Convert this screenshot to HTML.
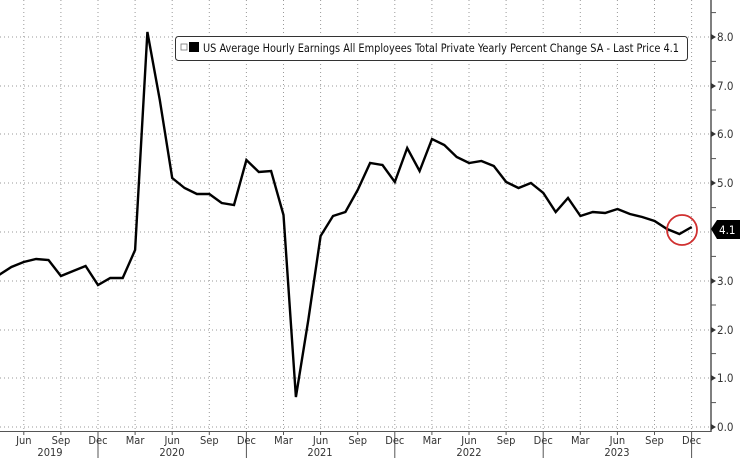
<!DOCTYPE html>
<html><head><style>
html,body{margin:0;padding:0;background:#fff;}
svg{display:block;font-family:"DejaVu Sans Condensed","Liberation Sans",sans-serif;}
</style></head><body>
<svg width="740" height="458" viewBox="0 0 740 458" xmlns="http://www.w3.org/2000/svg">
<rect width="740" height="458" fill="#fff"/>
<g stroke="#999" stroke-width="1" stroke-dasharray="1,3">
<line x1="0" x2="711" y1="37" y2="37"/><line x1="0" x2="711" y1="86" y2="86"/>
<line x1="0" x2="711" y1="134" y2="134"/><line x1="0" x2="711" y1="183" y2="183"/>
<line x1="0" x2="711" y1="232" y2="232"/><line x1="0" x2="711" y1="281" y2="281"/>
<line x1="0" x2="711" y1="330" y2="330"/><line x1="0" x2="711" y1="378" y2="378"/>
<line x1="0" x2="711" y1="427" y2="427"/>
<line x1="23.8" x2="23.8" y1="0" y2="431"/><line x1="60.9" x2="60.9" y1="0" y2="431"/>
<line x1="98" x2="98" y1="0" y2="431"/><line x1="135.1" x2="135.1" y1="0" y2="431"/>
<line x1="172.2" x2="172.2" y1="0" y2="431"/><line x1="209.3" x2="209.3" y1="0" y2="431"/>
<line x1="246.4" x2="246.4" y1="0" y2="431"/><line x1="283.5" x2="283.5" y1="0" y2="431"/>
<line x1="320.6" x2="320.6" y1="0" y2="431"/><line x1="357.7" x2="357.7" y1="0" y2="431"/>
<line x1="394.8" x2="394.8" y1="0" y2="431"/><line x1="431.9" x2="431.9" y1="0" y2="431"/>
<line x1="469" x2="469" y1="0" y2="431"/><line x1="506.1" x2="506.1" y1="0" y2="431"/>
<line x1="543.2" x2="543.2" y1="0" y2="431"/><line x1="580.3" x2="580.3" y1="0" y2="431"/>
<line x1="617.4" x2="617.4" y1="0" y2="431"/><line x1="654.5" x2="654.5" y1="0" y2="431"/>
<line x1="691.6" x2="691.6" y1="0" y2="431"/>
</g>
<line x1="711" x2="711" y1="0" y2="432" stroke="#555" stroke-width="1.5"/>
<line x1="0" x2="711" y1="431.5" y2="431.5" stroke="#555" stroke-width="1"/>
<g stroke="#555" stroke-width="1">
<line x1="711" x2="716" y1="12.6" y2="12.6"/><line x1="711" x2="716" y1="61.4" y2="61.4"/>
<line x1="711" x2="716" y1="110" y2="110"/><line x1="711" x2="716" y1="158.6" y2="158.6"/>
<line x1="711" x2="716" y1="207.6" y2="207.6"/><line x1="711" x2="716" y1="256.4" y2="256.4"/>
<line x1="711" x2="716" y1="305" y2="305"/><line x1="711" x2="716" y1="353.6" y2="353.6"/>
<line x1="711" x2="716" y1="402.6" y2="402.6"/>
</g>
<g fill="#333">
<polygon points="711,34 716,37 711,40"/><polygon points="711,83 716,86 711,89"/>
<polygon points="711,131 716,134 711,137"/><polygon points="711,180 716,183 711,186"/>
<polygon points="711,278 716,281 711,284"/><polygon points="711,327 716,330 711,333"/>
<polygon points="711,375 716,378 711,381"/><polygon points="711,424 716,427 711,430"/>
</g>
<g font-size="11.5" fill="#333">
<text x="717" y="41">8.0</text><text x="717" y="90">7.0</text><text x="717" y="138">6.0</text>
<text x="717" y="187">5.0</text><text x="717" y="285">3.0</text><text x="717" y="334">2.0</text>
<text x="717" y="382">1.0</text><text x="717" y="431">0.0</text>
</g>
<polygon points="711,229 717,220 740,220 740,239 717,239" fill="#000"/>
<text x="719" y="234" font-size="11.5" fill="#fff">4.1</text>
<g stroke="#555" stroke-width="1">
<line x1="23.8" x2="23.8" y1="431" y2="435"/><line x1="60.9" x2="60.9" y1="431" y2="435"/>
<line x1="98" x2="98" y1="431" y2="458"/><line x1="135.1" x2="135.1" y1="431" y2="435"/>
<line x1="172.2" x2="172.2" y1="431" y2="435"/><line x1="209.3" x2="209.3" y1="431" y2="435"/>
<line x1="246.4" x2="246.4" y1="431" y2="458"/><line x1="283.5" x2="283.5" y1="431" y2="435"/>
<line x1="320.6" x2="320.6" y1="431" y2="435"/><line x1="357.7" x2="357.7" y1="431" y2="435"/>
<line x1="394.8" x2="394.8" y1="431" y2="458"/><line x1="431.9" x2="431.9" y1="431" y2="435"/>
<line x1="469" x2="469" y1="431" y2="435"/><line x1="506.1" x2="506.1" y1="431" y2="435"/>
<line x1="543.2" x2="543.2" y1="431" y2="458"/><line x1="580.3" x2="580.3" y1="431" y2="435"/>
<line x1="617.4" x2="617.4" y1="431" y2="435"/><line x1="654.5" x2="654.5" y1="431" y2="435"/>
<line x1="691.6" x2="691.6" y1="431" y2="458"/>
</g>
<g font-size="11" fill="#333" text-anchor="middle">
<text x="23.8" y="444">Jun</text><text x="60.9" y="444">Sep</text><text x="98" y="444">Dec</text>
<text x="135.1" y="444">Mar</text><text x="172.2" y="444">Jun</text><text x="209.3" y="444">Sep</text>
<text x="246.4" y="444">Dec</text><text x="283.5" y="444">Mar</text><text x="320.6" y="444">Jun</text>
<text x="357.7" y="444">Sep</text><text x="394.8" y="444">Dec</text><text x="431.9" y="444">Mar</text>
<text x="469" y="444">Jun</text><text x="506.1" y="444">Sep</text><text x="543.2" y="444">Dec</text>
<text x="580.3" y="444">Mar</text><text x="617.4" y="444">Jun</text><text x="654.5" y="444">Sep</text>
<text x="691.6" y="444">Dec</text>
<text x="50" y="456">2019</text><text x="172" y="456">2020</text><text x="320" y="456">2021</text>
<text x="469" y="456">2022</text><text x="617" y="456">2023</text>
</g>
<polyline fill="none" stroke="#000" stroke-width="2.4" stroke-linejoin="miter" points="-1,275 11.4,267 23.7,262 36.1,259 48.5,260 60.9,276 73.2,271 85.6,266 98,285 110.3,278 122.7,278 135.1,250 147.4,32 159.8,100 172.2,178 184.6,188 196.9,194 209.3,194 221.7,203 234,205 246.4,160 258.8,172 271.1,171 283.5,215 295.9,397 308.3,320 320.6,236 333,216 345.4,212 357.7,190 370.1,163 382.5,165 394.8,182 407.2,148 419.6,171 432,139 444.3,145 456.7,157 469.1,163 481.4,161 493.8,166 506.2,182 518.5,188 530.9,183 543.3,193 555.7,212 568,198 580.4,216 592.8,212 605.1,213 617.5,209 629.9,214 642.2,217 654.6,221 667,229 679.4,234 691.7,227"/>
<circle cx="682" cy="230" r="15" fill="none" stroke="#d03030" stroke-width="1.8"/>
<rect x="175.5" y="36.5" width="512" height="24" rx="3" fill="#fff" stroke="#333" stroke-width="1"/>
<rect x="181" y="44" width="6" height="6" fill="#fff" stroke="#777" stroke-width="0.8"/>
<rect x="189" y="42" width="10" height="10" fill="#000"/>
<text x="203" y="52" font-size="11.2" fill="#111" textLength="476" lengthAdjust="spacingAndGlyphs">US Average Hourly Earnings All Employees Total Private Yearly Percent Change SA - Last Price 4.1</text>
</svg>
</body></html>
